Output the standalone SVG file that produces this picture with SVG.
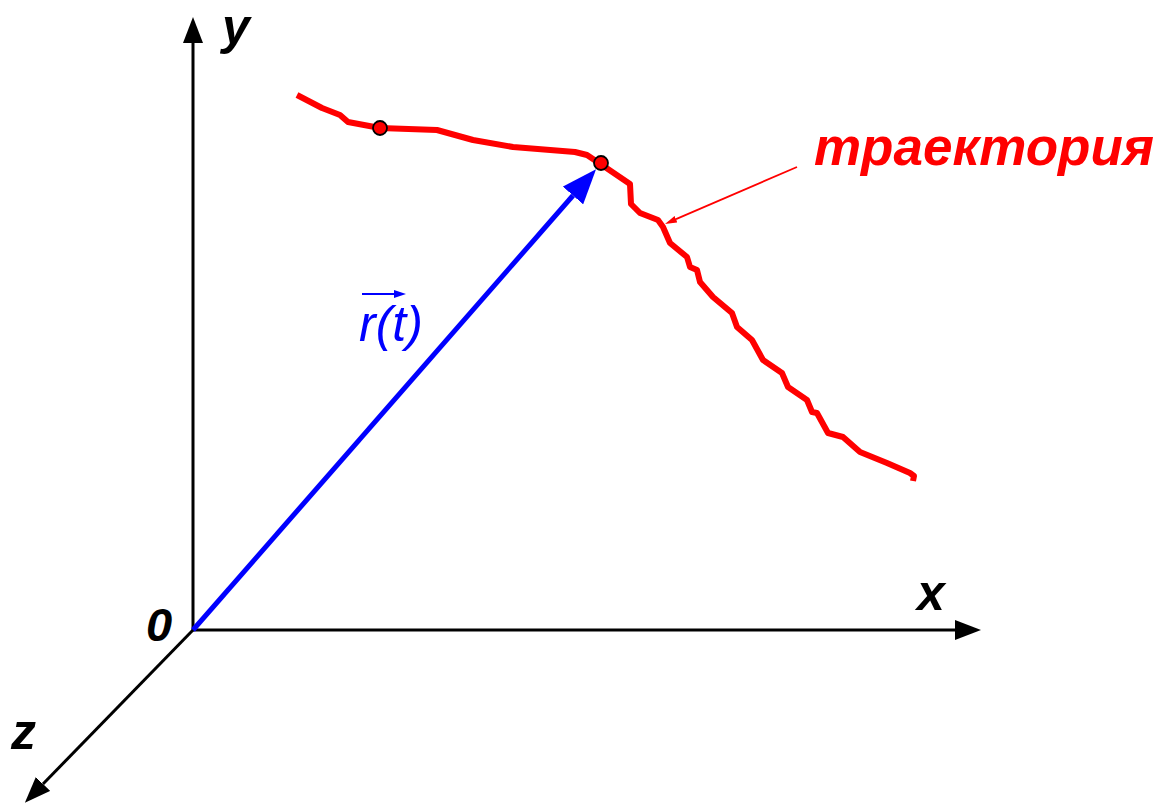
<svg xmlns="http://www.w3.org/2000/svg" width="1160" height="805" viewBox="0 0 1160 805">
<style>
.axis{stroke:#000;stroke-width:3;fill:none}
.lbl{font-family:"Liberation Sans",Arial,sans-serif;font-weight:bold;font-style:italic;fill:#000}
.traj{stroke:#ff0000;stroke-width:6;fill:none;stroke-linejoin:round;stroke-linecap:butt}
.dot{fill:#ff0000;stroke:#000;stroke-width:1.8}
</style>
<defs>
<marker id="ah" viewBox="0 0 26 20" refX="0" refY="10" markerWidth="26" markerHeight="20" markerUnits="userSpaceOnUse" orient="auto"><path d="M0,0 L26,10 L0,20 z" fill="#000"/></marker>
<marker id="bh" viewBox="0 0 35 27" refX="0" refY="13.5" markerWidth="35" markerHeight="27" markerUnits="userSpaceOnUse" orient="auto"><path d="M0,0 L35,13.5 L0,27 z" fill="#0000ff"/></marker>
<marker id="rh" viewBox="0 0 12 7" refX="0" refY="3.5" markerWidth="12" markerHeight="7" markerUnits="userSpaceOnUse" orient="auto"><path d="M0,0 L12,3.5 L0,7 z" fill="#ff0000"/></marker>
<marker id="vh" viewBox="0 0 12 8" refX="0" refY="4" markerWidth="12" markerHeight="8" markerUnits="userSpaceOnUse" orient="auto"><path d="M0,0 L12,4 L0,8 z" fill="#0000ff"/></marker>
</defs>
<g id="connectors">
<line id="axis-y" class="axis" x1="193" y1="631" x2="193" y2="43" marker-end="url(#ah)"/>
<line id="axis-x" class="axis" x1="192" y1="630" x2="955" y2="630" marker-end="url(#ah)"/>
<line id="axis-z" class="axis" x1="193" y1="630" x2="43" y2="784" marker-end="url(#ah)"/>
<line id="vector-r" x1="193" y1="630" x2="573" y2="195.5" stroke="#0000ff" stroke-width="5" marker-end="url(#bh)"/>
<line id="pointer" x1="797" y1="167" x2="676" y2="219.2" stroke="#ff0000" stroke-width="1.8" marker-end="url(#rh)"/>
</g>
<g id="trajectory">
<path class="traj" d="M297,95 L322,108 L340,115 L348,122 L380,128 L437,130 L473,140 L513,147 L575,152 L587,155 L602,165 L630,184 L631,204 L640,213 L658,220 L663,227 L670,243 L687,257 L690,267 L697,270 L700,282 L713,297 L732,313 L737,327 L752,340 L763,360 L782,373 L788,387 L807,400 L812,412 L817,413 L828,433 L843,437 L860,452 L887,463 L910,473 L914,476 L913,481"/>
<circle class="dot" cx="380" cy="128" r="7"/>
<circle class="dot" cx="601" cy="163" r="7"/>
</g>
<g id="label-y"><text class="lbl" x="222" y="44" font-size="50">y</text></g>
<g id="label-x"><text class="lbl" x="917" y="610" font-size="50">x</text></g>
<g id="label-z"><text class="lbl" x="11" y="749" font-size="50">z</text></g>
<g id="label-0"><text class="lbl" x="146" y="641" font-size="47">0</text></g>
<g id="label-r">
<text x="359" y="341" font-family="'Liberation Sans',Arial,sans-serif" font-style="italic" font-size="50" fill="#0000ff">r(t)</text>
<line x1="362" y1="294" x2="394" y2="294" stroke="#0000ff" stroke-width="2" marker-end="url(#vh)"/>
</g>
<g id="label-traj"><text class="lbl" x="814" y="165" font-size="54" textLength="340" lengthAdjust="spacingAndGlyphs" style="fill:#ff0000">траектория</text></g>
</svg>
